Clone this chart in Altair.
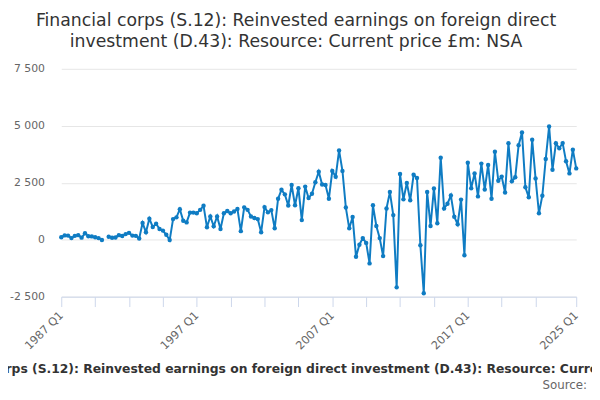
import altair as alt
import pandas as pd

TITLE = "Financial corps (S.12): Reinvested earnings on foreign direct investment (D.43): Resource: Current price £m: NSA"
TITLE_LINES = ["Financial corps (S.12): Reinvested earnings on foreign direct",
               "investment (D.43): Resource: Current price £m: NSA"]

start_year = 1987
n_quarters = 153
quarters = [f"{start_year + i // 4} Q{i % 4 + 1}" for i in range(n_quarters)]

values = [
    110, 190, 180, 70, 170, 200, 90, 280, 150, 145, 110, 70, -10, None,
    130, 85, 100, 200, 160, 245, 300, 180, 170, 50, 730, 330, 920, 560,
    700, 470, 400, 215, -15, 905, 980, 1340, 830, 760, 1190, 1190, 1160, 1310,
    1490, 550, 1020, 590, 1020, 470, 1160, 1260, 1160, 1240, 1350, 375, 1420, 1310,
    1020, 950, 905, 330, 1430, 1200, 1300, 500, 1800, 2190, 1990, 1500, 2400, 1510,
    2260, 860, 2330, 1830, 2020, 2520, 2980, 2420, 2400, 1800, 3020, 2760, 3920, 3020,
    1410, 500, 1000, -750, -220, 70, -140, -1040, 1510, 600, 70, -720, 1370, 2090,
    1080, -2090, 2880, 1770, 2490, 1730, 2850, 2710, -245, -2350, 2090, 605, 2250, 720,
    3600, 1370, 1580, 1940, 1010, 680, 1760, -680, 3380, 2260, 2910, 1900, 3340, 2200,
    3280, 1800, 3860, 2590, 2770, 2070, 4230, 2560, 2740, 4150, 4710, 2300, 1860, 4390,
    2690, 1160, 1930, 3540, 4970, 3070, 4230, 4010, 4240, 3440, 2910, 3950, 3130,
]

x_tick_values = [quarters[i] for i in range(0, 141, 10)] + [quarters[-1]]
x_label_values = ["1987 Q1", "1997 Q1", "2007 Q1", "2017 Q1", "2025 Q1"]

y_ticks = [-2500, 0, 2500, 5000, 7500]
y_labels = ["-2 500", "0", "2 500", "5 000", "7 500"]

df = pd.DataFrame({"quarter": quarters, "value": values})

x_label_expr = "indexof([" + ",".join(f"'{q}'" for q in x_label_values) + "], datum.value) >= 0 ? datum.value : ''"
y_label_expr = ""
for v, l in zip(y_ticks, y_labels):
    y_label_expr += f"datum.value == {v} ? '{l}' : "
y_label_expr += "''"

FONT = "DejaVu Sans"
BLUE = "#0f7cc3"

x_enc = alt.X(
    "quarter:O",
    sort=None,
    scale=alt.Scale(padding=0),
    axis=alt.Axis(
        title=TITLE,
        titleFont=FONT,
        titleFontSize=12.5,
        titleFontWeight="bold",
        titleColor="#333333",
        titlePadding=11,
        values=x_tick_values,
        labelExpr=x_label_expr,
        labelAngle=-45,
        labelAlign="right",
        labelBaseline="middle",
        labelFont=FONT,
        labelFontSize=11.5,
        labelColor="#666666",
        labelPadding=7,
        labelOverlap=False,
        tickColor="#ccd6eb",
        tickSize=10,
        domainColor="#ccd6eb",
        grid=False,
    ),
)

y_enc = alt.Y(
    "value:Q",
    scale=alt.Scale(domain=[-2500, 7500], nice=False, zero=False),
    axis=alt.Axis(
        title=None,
        values=y_ticks,
        labelExpr=y_label_expr,
        labelFont=FONT,
        labelFontSize=11,
        labelColor="#666666",
        labelPadding=17,
        ticks=False,
        domain=False,
        gridColor="#e6e6e6",
    ),
)

line = alt.Chart(df).mark_line(color=BLUE, strokeWidth=2).encode(x=x_enc, y=y_enc)
pts = alt.Chart(df).mark_circle(color=BLUE, size=20, opacity=1).encode(x=x_enc, y=y_enc)

source = alt.Chart(pd.DataFrame({"t": ["Source:"]})).mark_text(
    align="right", baseline="middle", font=FONT, fontSize=12, color="#666666"
).encode(text="t:N", x=alt.value(533), y=alt.value(321))

chart = alt.layer(line, pts, source).properties(
    width=522,
    height=231,
    autosize=alt.AutoSizeParams(type="none"),
    padding={"left": 54, "top": 59, "right": 16, "bottom": 94},
    title=alt.TitleParams(
        text=TITLE_LINES,
        font=FONT,
        fontSize=17.5,
        fontWeight="normal",
        color="#333333",
        anchor="middle",
        dx=-23,
        lineHeight=21,
        offset=13,
    ),
).configure_view(stroke=None)

chart.save("out.html", embed_options={"renderer": "svg", "actions": False})
